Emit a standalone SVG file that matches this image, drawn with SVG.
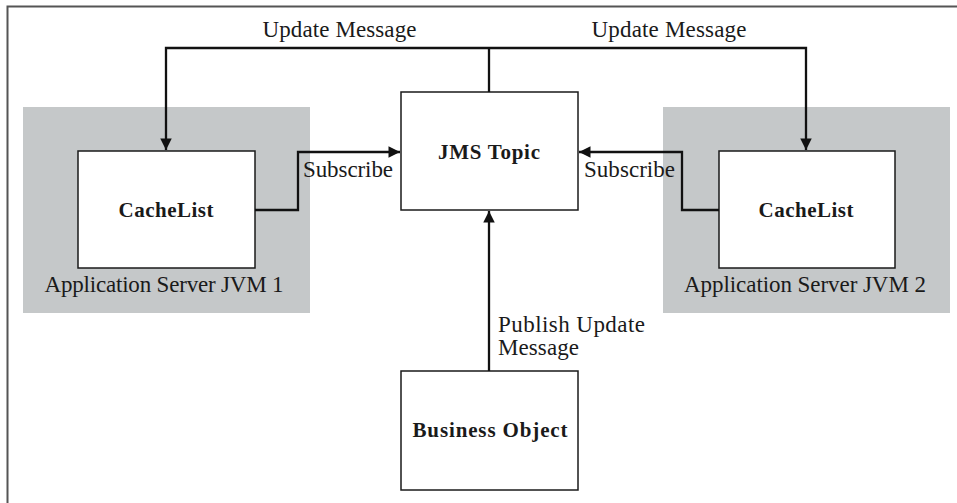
<svg xmlns="http://www.w3.org/2000/svg" width="957" height="503" viewBox="0 0 957 503">
<style>
.box{fill:#fff;stroke:#1a1a1a;stroke-width:1.5}
.zone{fill:#c5c8c9;stroke:none}
.con{fill:none;stroke:#111;stroke-width:2.3}
.lbl{font-family:"Liberation Serif",serif;font-size:23px;fill:#1a1a1a}
.bold{font-family:"Liberation Serif",serif;font-size:21px;font-weight:bold;fill:#1a1a1a}
</style>
<defs>
<marker id="ah" viewBox="0 0 10 10" refX="10" refY="5" markerWidth="6" markerHeight="5" markerUnits="strokeWidth" orient="auto">
<path d="M0,0 L10,5 L0,10 z" fill="#111"/>
</marker>
</defs>
<rect width="957" height="503" fill="#fff"/>
<path d="M7.5,503 V6.5 H957" fill="none" stroke="#555" stroke-width="2"/>
<g id="jvm1">
<rect class="zone" x="23" y="107" width="287" height="206"/>
<text class="lbl" x="164" y="292" text-anchor="middle" textLength="239">Application Server JVM 1</text>
</g>
<g id="jvm2">
<rect class="zone" x="663" y="107" width="287" height="206"/>
<text class="lbl" x="805" y="292" text-anchor="middle" textLength="242">Application Server JVM 2</text>
</g>
<g id="cachelist1">
<rect class="box" x="78" y="151" width="177" height="117"/>
<text class="bold" x="166" y="217" text-anchor="middle" textLength="95">CacheList</text>
</g>
<g id="cachelist2">
<rect class="box" x="719" y="151" width="176" height="117"/>
<text class="bold" x="806" y="217" text-anchor="middle" textLength="95">CacheList</text>
</g>
<g id="jmstopic">
<rect class="box" x="401" y="92" width="177" height="118"/>
<text class="bold" x="489" y="159" text-anchor="middle" textLength="102">JMS Topic</text>
</g>
<g id="businessobject">
<rect class="box" x="401" y="371" width="177" height="119"/>
<text class="bold" x="490" y="437" text-anchor="middle" textLength="155">Business Object</text>
</g>
<g id="connectors">
<path class="con" d="M489,92 V48"/>
<path class="con" d="M489,48 H166 V150" marker-end="url(#ah)"/>
<path class="con" d="M489,48 H806 V150" marker-end="url(#ah)"/>
<path class="con" d="M255,210 H298 V152 H400" marker-end="url(#ah)"/>
<path class="con" d="M719,210 H682 V152 H579" marker-end="url(#ah)"/>
<path class="con" d="M489,371 V211" marker-end="url(#ah)"/>
<text class="lbl" x="339.5" y="37" text-anchor="middle" textLength="154">Update Message</text>
<text class="lbl" x="669" y="37" text-anchor="middle" textLength="155">Update Message</text>
<text class="lbl" x="303" y="177" textLength="90">Subscribe</text>
<text class="lbl" x="584" y="177" textLength="91">Subscribe</text>
<text class="lbl" x="498" y="332" textLength="147">Publish Update</text>
<text class="lbl" x="498" y="355" textLength="81">Message</text>
</g>
</svg>
